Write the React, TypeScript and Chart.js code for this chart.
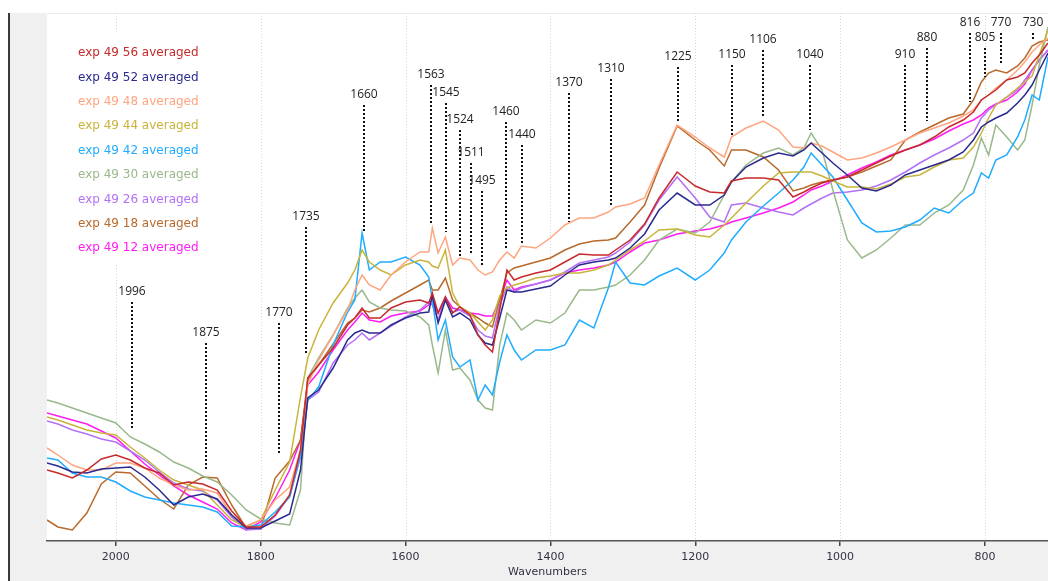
import React, { useEffect, useRef } from "react";
import { Chart, registerables } from "chart.js";

Chart.register(...registerables);

// Wavenumbers (cm-1) at which the spectra were read
const wavenumbers = [
  2095, 2080, 2060, 2040, 2020, 2000, 1980, 1960, 1940, 1920,
  1900, 1880, 1860, 1840, 1820, 1800, 1780, 1760, 1745, 1735,
  1720, 1700, 1680, 1670, 1660, 1650, 1635, 1620, 1600, 1580,
  1568, 1563, 1555, 1545, 1535, 1525, 1511, 1500, 1490, 1480,
  1470, 1460, 1450, 1440, 1420, 1400, 1380, 1360, 1340, 1320,
  1310, 1290, 1270, 1250, 1225, 1200, 1180, 1160, 1150, 1130,
  1106, 1085, 1065, 1050, 1040, 1025, 1010, 990, 970, 950,
  930, 910, 890, 870, 850, 830, 816, 805, 795, 785,
  770, 755, 745, 735, 725, 713,
];

// Intensities (arbitrary units)
const exp56 = [
  71, 68, 63, 71, 82, 86, 81, 73, 68, 56,
  59, 57, 51, 30, 14, 14, 26, 46, 91, 163,
  176, 193, 216, 223, 233, 223, 223, 233, 239, 241,
  238, 248, 228, 244, 228, 234, 226, 206, 196, 189,
  231, 271, 261, 264, 268, 271, 279, 287, 286, 286,
  291, 301, 317, 343, 369, 355, 349, 348, 360, 363,
  363, 361, 344, 349, 353, 358, 361, 364, 371, 378,
  385, 391, 396, 404, 414, 421, 429, 441, 446, 451,
  461, 464, 468, 478, 486, 498,
];
const exp52 = [
  78, 75, 69, 68, 72, 73, 74, 64, 51, 36,
  44, 47, 42, 26, 13, 13, 20, 27, 71, 143,
  151, 173, 201, 208, 211, 208, 208, 216, 223, 228,
  229, 246, 218, 241, 224, 228, 221, 206, 198, 196,
  223, 251, 249, 249, 252, 255, 266, 276, 279, 281,
  283, 293, 307, 331, 348, 336, 336, 346, 359, 374,
  383, 388, 385, 391, 398, 388, 378, 366, 353, 350,
  356, 366, 371, 376, 381, 389, 401, 414, 419, 423,
  428, 438, 446, 456, 471, 488,
];
const exp48 = [
  93, 86, 76, 71, 71, 78, 78, 73, 63, 56,
  51, 52, 48, 26, 15, 21, 41, 54, 91, 156,
  181, 206, 231, 251, 266, 256, 251, 266, 279, 289,
  289, 313, 288, 304, 276, 283, 281, 271, 266, 269,
  281, 289, 283, 295, 293, 303, 316, 323, 323, 329,
  334, 337, 343, 376, 416, 404, 393, 384, 404, 413,
  420, 411, 394, 393, 398, 395, 389, 381, 383, 388,
  394, 401, 408, 413, 418, 425, 431, 441, 446, 453,
  461, 471, 479, 489, 496, 503,
];
const exp44 = [
  124, 121, 116, 111, 108, 106, 94, 83, 71, 61,
  56, 51, 36, 21, 14, 21, 51, 79, 144, 183,
  211, 238, 258, 271, 291, 279, 271, 266, 276, 281,
  279, 275, 273, 291, 248, 234, 228, 219, 211, 221,
  245, 253, 256, 258, 263, 265, 268, 268, 271, 276,
  281, 291, 300, 311, 312, 306, 304, 316, 323, 338,
  355, 368, 369, 369, 369, 365, 360, 354, 354, 352,
  357, 364, 366, 374, 381, 383, 394, 408, 423, 436,
  444, 453, 459, 465, 486, 511,
];
const exp42 = [
  83, 81, 68, 64, 64, 59, 50, 44, 41, 38,
  36, 34, 29, 15, 14, 16, 29, 44, 86, 141,
  154, 196, 229, 241, 308, 271, 279, 279, 284, 276,
  264, 241, 201, 221, 184, 174, 181, 141, 156, 146,
  179, 206, 191, 181, 191, 191, 196, 221, 213, 253,
  279, 258, 256, 265, 273, 261, 271, 288, 301, 319,
  335, 348, 361, 374, 388, 376, 364, 341, 318, 309,
  310, 314, 321, 333, 328, 341, 348, 368, 363, 381,
  386, 404, 421, 446, 441, 484,
];
const exp30 = [
  141, 138, 133, 128, 123, 118, 104, 97, 89, 79,
  73, 65, 59, 46, 31, 22, 18, 16, 51, 163,
  183, 206, 233, 243, 251, 239, 233, 231, 230, 224,
  216, 196, 168, 211, 171, 173, 161, 141, 133, 131,
  196, 228, 221, 211, 221, 218, 228, 251, 251, 254,
  256, 266, 281, 301, 312, 308, 319, 346, 359, 376,
  388, 393, 386, 393, 408, 391, 351, 301, 283, 291,
  303, 316, 316, 328, 336, 351, 376, 403, 386, 416,
  404, 391, 401, 436, 476, 514,
];
const exp26 = [
  120, 117, 111, 107, 102, 99, 90, 81, 69, 58,
  52, 50, 41, 24, 11, 12, 25, 45, 84, 141,
  149, 178, 196, 201, 208, 201, 208, 215, 224, 231,
  239, 236, 221, 244, 229, 231, 225, 211, 205, 203,
  236, 254, 249, 253, 257, 261, 269, 278, 281, 284,
  288, 299, 316, 341, 364, 343, 324, 319, 336, 338,
  333, 329, 326, 333, 337, 343, 348, 349, 351, 355,
  361, 369, 378, 386, 393, 401, 408, 423, 431, 436,
  444, 451, 461, 471, 481, 491,
];
const exp18 = [
  21, 14, 11, 28, 57, 69, 68, 55, 42, 32,
  56, 64, 63, 36, 13, 12, 63, 80, 101, 161,
  176, 197, 218, 223, 231, 229, 233, 240, 248, 256,
  261, 251, 251, 263, 241, 234, 228, 223, 218, 214,
  241, 268, 273, 275, 279, 283, 291, 297, 300, 301,
  303, 319, 336, 373, 415, 401, 391, 375, 391, 391,
  384, 371, 350, 353, 356, 359, 361, 364, 369, 375,
  381, 401, 409, 416, 423, 427, 441, 459, 468, 471,
  468, 475, 483, 495, 499, 501,
];
const exp12 = [
  128, 125, 121, 117, 110, 103, 90, 77, 66, 55,
  46, 39, 32, 18, 11, 19, 43, 71, 101, 156,
  169, 191, 211, 219, 228, 221, 219, 225, 228, 230,
  236, 241, 228, 244, 233, 231, 228, 227, 225, 225,
  241, 261, 251, 254, 257, 261, 268, 271, 273, 276,
  279, 289, 298, 301, 307, 310, 312, 316, 319, 323,
  328, 333, 339, 346, 351, 355, 360, 366, 373, 379,
  386, 391, 396, 402, 410, 417, 421, 426, 433, 437,
  441, 449, 457, 471, 481, 491,
];

const seriesValues = [exp56, exp52, exp48, exp44, exp42, exp30, exp26, exp18, exp12];
const seriesLabels = [
  "exp 49 56 averaged",
  "exp 49 52 averaged",
  "exp 49 48 averaged",
  "exp 49 44 averaged",
  "exp 49 42 averaged",
  "exp 49 30 averaged",
  "exp 49 26 averaged",
  "exp 49 18 averaged",
  "exp 49 12 averaged",
];
const seriesColors = [
  "#c62a2a",
  "#2a2a8e",
  "#ffa580",
  "#c8b43a",
  "#20acff",
  "#9ab98b",
  "#b470f5",
  "#b86a2c",
  "#ff1cf4",
];

const tickValues = [2000, 1800, 1600, 1400, 1200, 1000, 800];

// Peak annotations: label, wavenumber of marker, marker top / bottom (intensity units)
const peakLabels = [
  "1996", "1875", "1770", "1735", "1660", "1563", "1545", "1524", "1511", "1495",
  "1460", "1440", "1370", "1310", "1225", "1150", "1106", "1040", "910", "880",
  "816", "805", "770", "730",
];
const peakPositions = [
  1977.5, 1875.7, 1774.4, 1737.6, 1657, 1564.9, 1543.8, 1524.9, 1510.1, 1494.1,
  1461.3, 1439.2, 1374.7, 1316.3, 1224.2, 1149.6, 1106, 1041.4, 909.8, 879.4,
  820.9, 799.3, 777.2, 733.4,
];
const peakTops = [
  239, 198, 218, 314, 436, 456, 438, 411, 378, 350,
  419, 396, 448, 462, 474, 476, 491, 476, 476, 493,
  508, 493, 508, 508,
];
const peakBottoms = [
  113, 71, 88, 187, 308, 316, 309, 284, 288, 274,
  292, 298, 319, 336, 419, 406, 424, 411, 408, 420,
  439, 464, 478, 501,
];

const backgroundPlugin = {
  id: "spectrumBackground",
  beforeDraw(chart: any) {
    const { ctx, chartArea: a, width, height } = chart;
    ctx.save();
    ctx.fillStyle = "#ffffff";
    ctx.fillRect(0, 0, width, height);
    ctx.fillStyle = "#f0f0f0";
    ctx.fillRect(10, a.top, a.left - 10, height - a.top);
    ctx.fillRect(10, a.bottom, width - 10, height - a.bottom);
    ctx.strokeStyle = "#3a3a3a";
    ctx.lineWidth = 2;
    ctx.beginPath();
    ctx.moveTo(9, a.top);
    ctx.lineTo(9, height);
    ctx.stroke();
    ctx.strokeStyle = "#ececec";
    ctx.lineWidth = 1;
    ctx.beginPath();
    ctx.moveTo(a.left, a.top + 0.5);
    ctx.lineTo(a.right, a.top + 0.5);
    ctx.stroke();
    const xs = chart.scales.x;
    ctx.strokeStyle = "#d6d6d6";
    ctx.setLineDash([1, 2]);
    for (const v of tickValues) {
      const px = Math.round(xs.getPixelForValue(v)) + 0.5;
      ctx.beginPath();
      ctx.moveTo(px, a.top);
      ctx.lineTo(px, a.bottom);
      ctx.stroke();
    }
    ctx.restore();
  },
  beforeDatasetsDraw(chart: any) {
    const { ctx, chartArea: a } = chart;
    ctx.save();
    ctx.fillStyle = "#ffffff";
    ctx.fillRect(a.left, a.top + 20, 170, 230);
    ctx.font = '12px "DejaVu Sans"';
    ctx.textAlign = "left";
    ctx.textBaseline = "middle";
    seriesLabels.forEach((lab, i) => {
      ctx.fillStyle = seriesColors[i];
      ctx.fillText(lab, a.left + 31, a.top + 40 + i * 24.4);
    });
    ctx.restore();
  },
};

const annotationPlugin = {
  id: "peakAnnotations",
  afterDatasetsDraw(chart: any) {
    const { ctx } = chart;
    const xs = chart.scales.x;
    const ys = chart.scales.y;
    ctx.save();
    ctx.strokeStyle = "#111111";
    ctx.lineWidth = 2;
    ctx.setLineDash([2, 2]);
    ctx.fillStyle = "#222222";
    ctx.font = '12px "Open Sans"';
    ctx.textAlign = "center";
    ctx.textBaseline = "alphabetic";
    peakLabels.forEach((lab, i) => {
      const px = Math.round(xs.getPixelForValue(peakPositions[i]));
      const top = ys.getPixelForValue(peakTops[i]);
      const bottom = ys.getPixelForValue(peakBottoms[i]);
      ctx.beginPath();
      ctx.moveTo(px, top);
      ctx.lineTo(px, bottom);
      ctx.stroke();
      ctx.fillText(lab, px, top - 7);
    });
    ctx.restore();
  },
};

export default function App() {
  const ref = useRef<HTMLCanvasElement>(null);

  useEffect(() => {
    const canvas = ref.current;
    if (!canvas) return;
    const datasets = seriesValues.map((vals, i) => ({
      label: seriesLabels[i],
      data: wavenumbers.map((w, j) => ({ x: w, y: vals[j] })),
      borderColor: seriesColors[i],
      backgroundColor: seriesColors[i],
      borderWidth: 1.5,
      pointRadius: 0,
      fill: false,
      tension: 0,
    }));
    const chart = new Chart(canvas, {
      type: "line",
      data: { datasets },
      options: {
        animation: false,
        responsive: false,
        devicePixelRatio: 1,
        events: [],
        layout: { padding: { left: 47, top: 13, right: 0, bottom: 0 } },
        plugins: { legend: { display: false }, tooltip: { enabled: false } },
        scales: {
          x: {
            type: "linear",
            reverse: true,
            min: 713,
            max: 2095,
            afterBuildTicks: (s: any) => {
              s.ticks = tickValues.map((v) => ({ value: v }));
            },
            afterFit: (s: any) => {
              s.height = 40;
            },
            grid: {
              display: true,
              drawOnChartArea: false,
              drawTicks: true,
              tickLength: 5,
              color: "#444444",
              lineWidth: 1.5,
            },
            border: { display: true, color: "#555555", width: 1.5 },
            ticks: {
              color: "#333344",
              padding: 5,
              maxRotation: 0,
              autoSkip: false,
              font: { family: "DejaVu Sans", size: 11 },
              callback: (v: any) => String(v),
            },
            title: {
              display: true,
              text: "Wavenumbers",
              color: "#333344",
              font: { family: "DejaVu Sans", size: 11 },
              padding: { top: 0, bottom: 2 },
            },
          },
          y: { display: false, min: 0, max: 528 },
        },
      },
      plugins: [backgroundPlugin, annotationPlugin],
    } as any);
    return () => chart.destroy();
  }, []);

  return (
    <div style={{ position: "fixed", left: 0, top: 0, width: 1048, height: 581, background: "#fff" }}>
      <canvas ref={ref} width={1048} height={581} style={{ display: "block", width: 1048, height: 581 }} />
    </div>
  );
}
